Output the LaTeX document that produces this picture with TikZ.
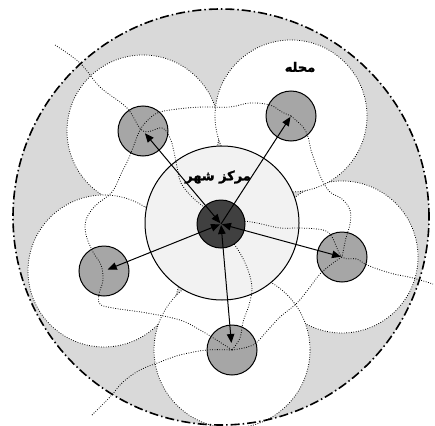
\documentclass[tikz,border=0pt]{standalone}
\usepackage{fontspec}
\usepackage{xcolor}
\usepackage{tikz}
\usetikzlibrary{arrows.meta}
\newfontfamily\arabicfont[Script=Arabic,FakeBold=1.8]{DejaVu Sans Bold}
\TeXXeTstate=1
\definecolor{cityfill}{HTML}{D9D9D9}
\definecolor{corefill}{HTML}{F2F2F2}
\definecolor{hubfill}{HTML}{A6A6A6}
\definecolor{centerfill}{HTML}{404040}

\begin{document}
\begin{tikzpicture}[x=1pt,y=-1pt,
  road/.style={line width=0.8pt,dash pattern=on 0.8pt off 1.6pt},
  petal/.style={circle,draw,fill=white,road,minimum size=152pt,inner sep=0pt},
  hub/.style={circle,draw,fill=hubfill,line width=1pt,minimum size=50pt,inner sep=0pt},
  oneway/.style={line width=1pt,-{Triangle[length=9pt,width=7.5pt]}},
  twoway/.style={line width=1pt,{Triangle[length=9pt,width=7.5pt]}-{Triangle[length=9pt,width=7.5pt]}},
  tag/.style={font=\arabicfont\fontsize{13}{15}\selectfont,inner sep=0pt}]
  \useasboundingbox (0,0) rectangle (435,425);

  % city boundary
  \node[circle,fill=cityfill,minimum size=416pt,inner sep=0pt] (city) at (221,217) {};

  % neighbourhood centres
  \coordinate (c) at (221,224);
  \coordinate (tl) at (143,131);
  \coordinate (tr) at (291,116);
  \coordinate (r) at (342,257);
  \coordinate (b) at (232,350);
  \coordinate (l) at (104,271);

  % neighbourhoods
  \node[petal] (ptl) at (tl) {};
  \node[petal] (pr) at (r) {};
  \node[petal] (ptr) at (tr) {};
  \node[petal] (pl) at (l) {};
  \node[petal,minimum size=156pt] (pb) at (b) {};

  % city centre ring
  \node[circle,draw,fill=corefill,line width=1pt,minimum size=154pt,inner sep=0pt] (core) at (222,223) {};

  \node[hub] (htl) at (tl) {};
  \node[hub] (htr) at (tr) {};
  \node[hub] (hr) at (r) {};
  \node[hub] (hb) at (b) {};
  \node[hub] (hl) at (l) {};

  % roads
  \draw[road] plot[smooth,tension=0.6] coordinates {(55,45) (80,63) (100,87) (127,108) (tl) (162,128) (170,138) (174,152) (177,167) (181,183) (192,197) (205,208) (c)};
  \draw[road] plot[smooth,tension=0.6] coordinates {(tr) (282,112) (270,105) (250,103) (230,107) (205,107) (187,108) (160,112) (148,120) (140,130) (134,145) (128,160) (122,172) (112,192) (95,206) (86,220) (86,235) (93,252) (101,265) (103,280) (99,294) (100,304) (113,308) (147,313) (180,320) (200,330) (215,339) (b)};
  \draw[road] plot[smooth,tension=0.6] coordinates {(b) (253,345) (267,331) (280,317) (297,303) (310,287) (320,274) (333,263) (r)};
  \draw[road] plot[smooth,tension=0.6] coordinates {(92,415) (110,397) (123,382) (140,370) (160,362) (180,355) (207,350) (b)};
  \draw[road] plot[smooth,tension=0.6] coordinates {(c) (230,238) (240,253) (248,270) (252,288) (249,305) (243,322) (240,338) (b)};
  \draw[road] plot[smooth,tension=0.6] coordinates {(c) (240,221) (257,223) (280,228) (300,228) (323,230) (332,237) (r) (357,259) (367,265) (390,273) (413,278) (433,284)};
  \draw[road] plot[smooth,tension=0.6] coordinates {(tr) (303,127) (308,137) (311,150) (316,165) (322,180) (330,192) (342,199) (350,210) (350,224) (346,238) (r)};

  \node[circle,draw,fill=centerfill,line width=1pt,minimum size=48pt,inner sep=0pt] (hc) at (c) {};

  % links from the centre
  \draw[twoway,shorten <=1pt,shorten >=3pt] (hc.center) -- (htl.center);
  \draw[oneway,shorten >=1pt] (hc.center) -- (htr.center);
  \draw[twoway,shorten <=1pt,shorten >=1pt] (hc.center) -- (hr.center);
  \draw[twoway,shorten <=1pt,shorten >=7pt] (hc.center) -- (hb.center);
  \draw[twoway,shorten <=1pt,shorten >=4pt] (hc.center) -- (hl.center);

  \draw[line width=1.6pt,dash pattern=on 9pt off 3pt on 1.5pt off 3pt] (city.center) circle[radius=208pt];

  \node[tag] (coretxt) at (218,177) {\beginR مرکز شهر\endR};
  \node[tag] (nbtxt) at (300,67) {\beginR محله\endR};
\end{tikzpicture}
\end{document}
